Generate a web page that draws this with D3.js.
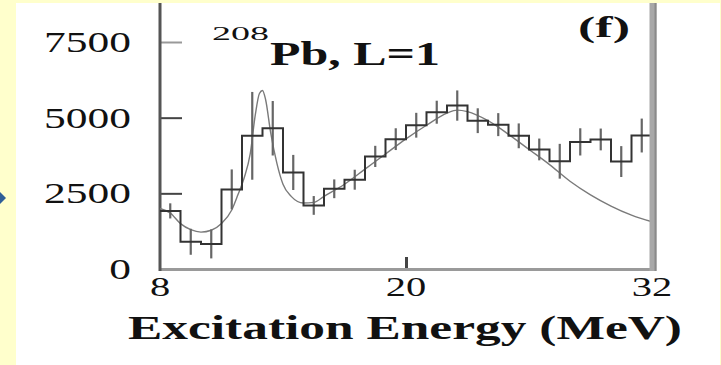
<!DOCTYPE html>
<html>
<head>
<meta charset="utf-8">
<script src="https://cdn.jsdelivr.net/npm/d3@7"></script>
<style>
  html, body { margin: 0; padding: 0; background: #ffffcc; }
  svg { display: block; }
  text { font-family: "Liberation Serif", "DejaVu Serif", serif; fill: #111; }
</style>
</head>
<body>
<script>
//data
var binStart = [8, 9, 10, 11, 12, 13, 14, 15, 16, 17, 18, 19, 20, 21, 22, 23, 24, 25, 26, 27, 28, 29, 30, 31];
var counts   = [1920, 900, 830, 2630, 4400, 4650, 3190, 2100, 2650, 2950, 3720, 4290,
                4750, 5180, 5400, 4900, 4770, 4400, 3950, 3560, 4200, 4280, 3550, 4410];
var errors   = [250, 430, 480, 660, 1450, 900, 580, 310, 310, 330, 350, 360,
                410, 380, 500, 410, 380, 410, 360, 575, 450, 360, 510, 560];
var fitE     = [8, 8.5, 9, 9.5, 10, 10.5, 11, 11.5, 11.8, 12.1, 12.4, 12.65, 12.85, 13, 13.15, 13.4, 13.7, 14,
                14.4, 15, 15.5, 16, 17, 18, 19, 20, 21, 22, 22.5, 23, 24, 25, 26, 27, 28, 29, 30, 31, 32];
var fitV     = [2000, 1850, 1500, 1300, 1220, 1280, 1500, 1950, 2450, 3000, 3800, 5100, 5800, 5900, 5600, 4500, 3500, 2800,
                2400, 2180, 2200, 2400, 2800, 3300, 3800, 4300, 4750, 5150, 5250, 5200, 4900, 4450, 3950, 3450,
                2900, 2450, 2080, 1780, 1560];
var xTicks = [8, 20, 32];
var yTicks = [0, 2500, 5000, 7500];
var binWidth = 1;

//layout
var svg_width = 721;
var svg_height = 365;
var plot_left = 160, plot_right = 652, plot_top = 3, plot_bottom = 269;
var stretch = 1.5;   //the picture is squeezed wide, text too

var svg = d3.select('body').append('svg')
    .attr('width', svg_width)
    .attr('height', svg_height);

//white page on yellow
svg.append('rect')
    .attr('x', 16).attr('y', 3)
    .attr('width', 704).attr('height', svg_height - 3)
    .attr('fill', '#ffffff');

//slide bullet arrow peeking in at left
svg.append('path')
    .attr('d', 'M0,192L6,198L0,204Z')
    .attr('fill', '#2f5f98');

//scales
var x = d3.scaleLinear().domain([8, 32]).range([plot_left, plot_right]);
var y = d3.scaleLinear().domain([0, 7500]).range([plot_bottom, 42]);

//axes (ticks point inward, labels drawn separately)
var axis_y = d3.axisLeft(y).tickValues(yTicks.slice(1)).tickSize(-22).tickSizeOuter(0).tickFormat('');
var gy = svg.append('g').attr('transform', 'translate(' + plot_left + ',0)').call(axis_y);
gy.select('.domain').remove();
gy.selectAll('.tick line').attr('stroke', '#444').attr('stroke-width', 2);
gy.selectAll('.tick').filter(function(d) { return d == 7500; }).select('line').attr('stroke', '#999');

var axis_x = d3.axisBottom(x).tickValues([20]).tickSize(-12).tickSizeOuter(0).tickFormat('');
var gx = svg.append('g').attr('transform', 'translate(0,' + plot_bottom + ')').call(axis_x);
gx.select('.domain').remove();
gx.selectAll('.tick line').attr('stroke', '#444').attr('stroke-width', 3);

//frame
svg.append('line')
    .attr('x1', plot_left).attr('x2', plot_right + 4)
    .attr('y1', plot_bottom + 0.5).attr('y2', plot_bottom + 0.5)
    .attr('stroke', '#9a9a9a').attr('stroke-width', 3);
svg.append('line')
    .attr('x1', plot_left).attr('x2', plot_left)
    .attr('y1', plot_top).attr('y2', plot_bottom + 2)
    .attr('stroke', '#555').attr('stroke-width', 3);

//fit curve
var fit = fitE.map(function(e, i) { return [e, fitV[i]]; });
svg.append('path')
    .datum(fit)
    .attr('fill', 'none')
    .attr('stroke', '#7a7a7a')
    .attr('stroke-width', 1.4)
    .attr('d', d3.line()
        .x(function(d) { return x(d[0]); })
        .y(function(d) { return y(d[1]); })
        .curve(d3.curveMonotoneX));

//error bars
svg.append('g').selectAll('line').data(binStart).enter().append('line')
    .attr('x1', function(d) { return x(d + binWidth / 2); })
    .attr('x2', function(d) { return x(d + binWidth / 2); })
    .attr('y1', function(d, i) { return y(counts[i] - errors[i]); })
    .attr('y2', function(d, i) { return y(counts[i] + errors[i]); })
    .attr('stroke', '#666')
    .attr('stroke-width', 2.2);

//histogram steps
var steps = binStart.map(function(d, i) { return [d, counts[i]]; });
steps.push([binStart[binStart.length - 1] + binWidth, counts[counts.length - 1]]);
svg.append('path')
    .datum(steps)
    .attr('fill', 'none')
    .attr('stroke', '#333')
    .attr('stroke-width', 2)
    .attr('d', d3.line()
        .x(function(d) { return x(d[0]); })
        .y(function(d) { return y(d[1]); })
        .curve(d3.curveStepAfter));

//right edge of frame (drawn last, it covers the ends)
svg.append('line')
    .attr('x1', plot_right + 1).attr('x2', plot_right + 1)
    .attr('y1', plot_top).attr('y2', plot_bottom + 2)
    .attr('stroke', '#a8a8a8').attr('stroke-width', 7);
svg.append('line')
    .attr('x1', plot_right + 3.5).attr('x2', plot_right + 3.5)
    .attr('y1', plot_top).attr('y2', plot_bottom + 2)
    .attr('stroke', '#8a8a8a').attr('stroke-width', 2);

//stretched text helper
function label(txt, px, py, size, weight, anchor, len) {
    var t = svg.append('text')
        .attr('font-size', size)
        .attr('font-weight', weight)
        .attr('text-anchor', anchor)
        .text(txt);
    if (len) {
        t.attr('x', px).attr('y', py)
         .attr('textLength', len)
         .attr('lengthAdjust', 'spacingAndGlyphs');
    } else {
        t.attr('transform', 'translate(' + px + ',' + py + ') scale(' + stretch + ',1)');
    }
    return t;
}

//tick labels
yTicks.forEach(function(d) {
    label(d, 131, y(d) + 10, 29, 'normal', 'end');
});
xTicks.forEach(function(d) {
    label(d, x(d), 296, 27, 'normal', 'middle');
});

//axis title
label('Excitation Energy (MeV)', 128, 339, 33, 'bold', 'start', 554);

//title and panel tag
label('208', 212, 40, 18, 'normal', 'start', 57);
label('Pb, L=1', 270, 65, 33, 'bold', 'start', 170);
label('(f)', 578, 37, 29, 'bold', 'start', 52);
</script>
</body>
</html>
